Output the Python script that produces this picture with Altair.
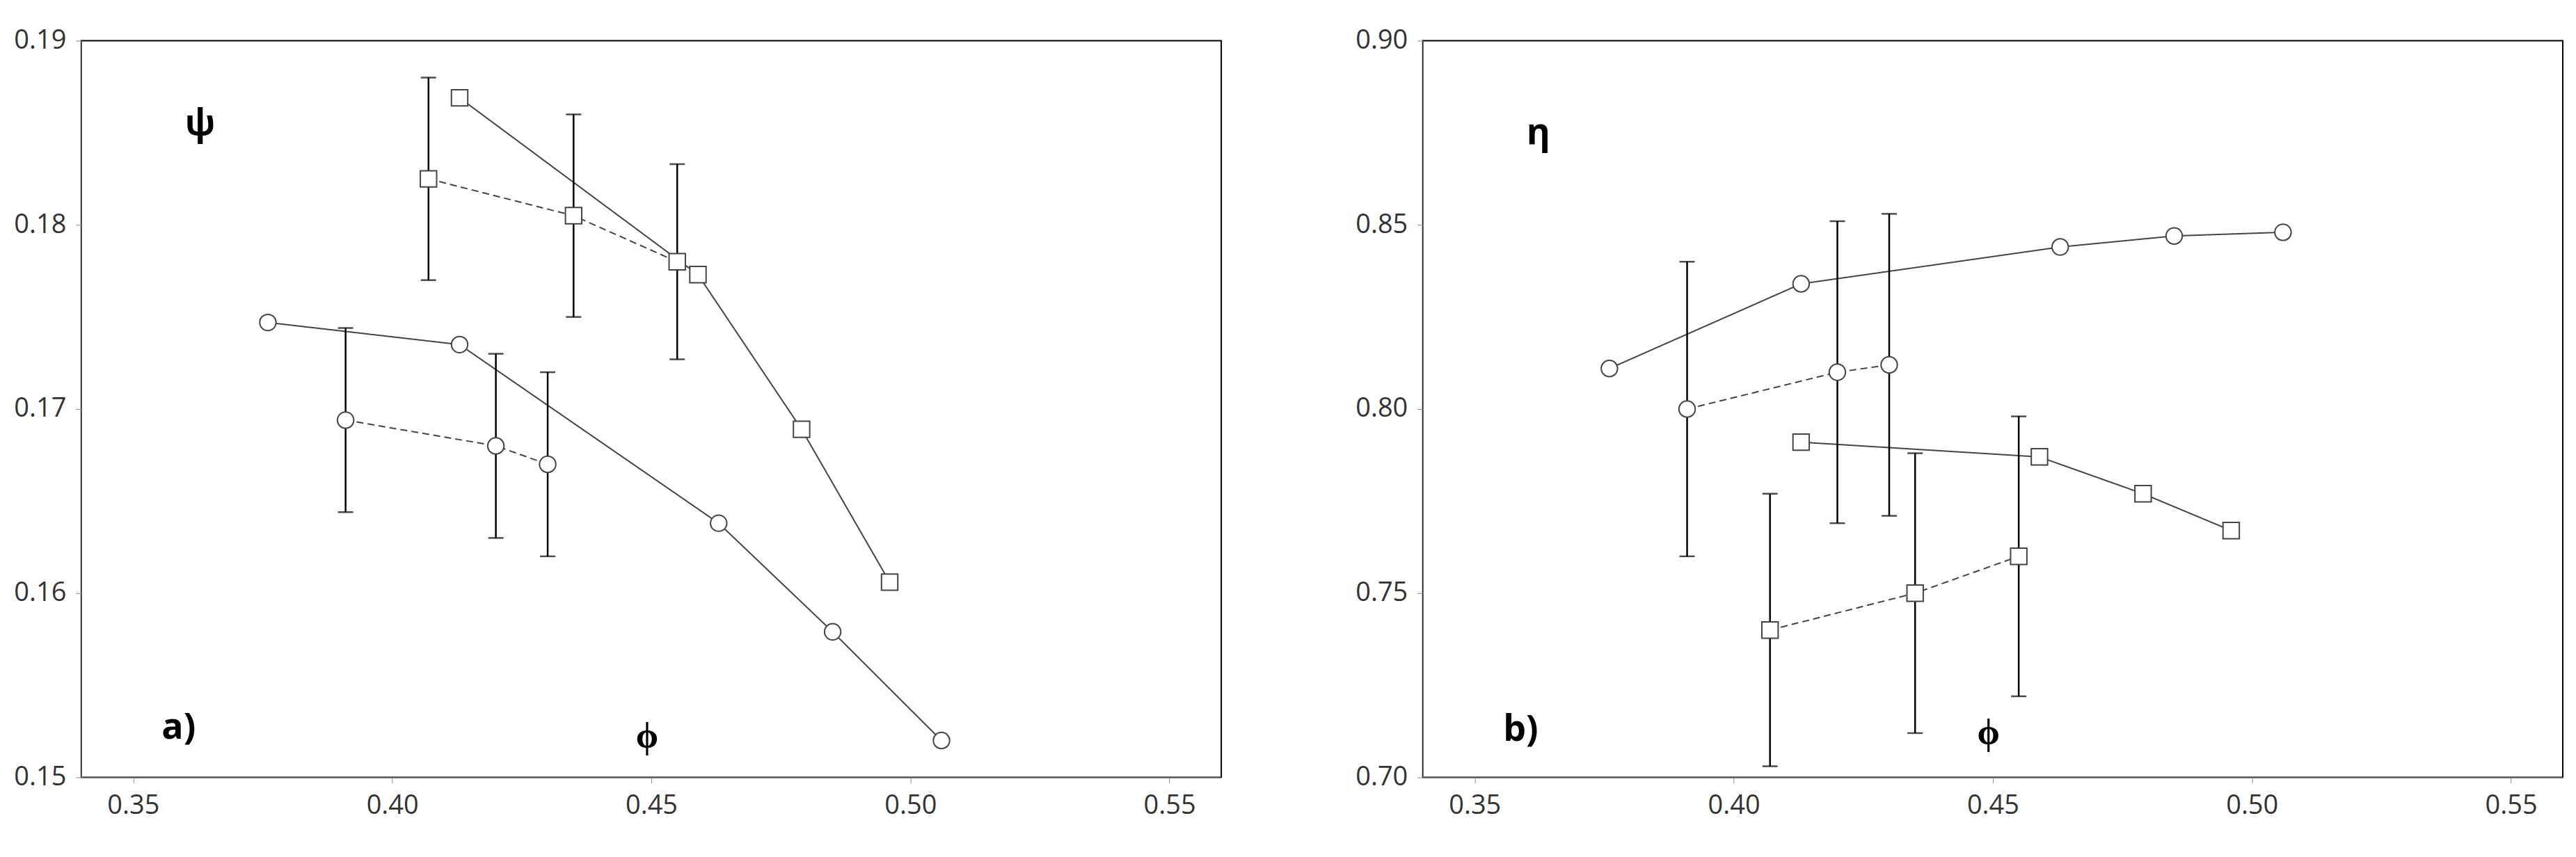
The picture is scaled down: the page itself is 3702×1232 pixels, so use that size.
import pandas as pd
import altair as alt

series = ["CFD - Non-Activated", "Exp. - Non-Activated", "CFD - Activated", "Exp. - Activated"]
shapes = ["circle", "circle", "square", "square"]
dashes = [[1, 0], [10, 6], [1, 0], [10, 6]]

# flow coefficient phi
phi_cfd_na = [0.376, 0.413, 0.463, 0.485, 0.506]
phi_exp_na = [0.391, 0.420, 0.430]
phi_cfd_a = [0.413, 0.459, 0.479, 0.496]
phi_exp_a = [0.407, 0.435, 0.455]

# head coefficient psi
psi_cfd_na = [0.1747, 0.1735, 0.1638, 0.1579, 0.1520]
psi_exp_na = [0.1694, 0.1680, 0.1670]
psi_err_na = [0.0050, 0.0050, 0.0050]
psi_cfd_a = [0.1869, 0.1773, 0.1689, 0.1606]
psi_exp_a = [0.1825, 0.1805, 0.1780]
psi_err_a = [0.0055, 0.0055, 0.0053]

# efficiency eta
eta_cfd_na = [0.811, 0.834, 0.844, 0.847, 0.848]
eta_exp_na = [0.800, 0.810, 0.812]
eta_err_na = [0.040, 0.041, 0.041]
eta_cfd_a = [0.791, 0.787, 0.777, 0.767]
eta_exp_a = [0.740, 0.750, 0.760]
eta_err_a = [0.037, 0.038, 0.038]

FONT = "Open Sans"


def make_df(cfd_na, exp_na, err_na, cfd_a, exp_a, err_a):
    rows = []
    for x, y in zip(phi_cfd_na, cfd_na):
        rows.append((series[0], x, y, None, None))
    for x, y, e in zip(phi_exp_na, exp_na, err_na):
        rows.append((series[1], x, y, y - e, y + e))
    for x, y in zip(phi_cfd_a, cfd_a):
        rows.append((series[2], x, y, None, None))
    for x, y, e in zip(phi_exp_a, exp_a, err_a):
        rows.append((series[3], x, y, y - e, y + e))
    return pd.DataFrame(rows, columns=["series", "phi", "val", "lo", "hi"])


def axis(vals):
    return alt.Axis(values=vals, format=".2f", title=None, grid=False, tickSize=8,
                    labelPadding=14, labelFontSize=38, labelFont=FONT, labelColor="#333",
                    domainColor="#888", tickColor="#888")


def panel(df, ydom, yvals, sym, sym_xy, tag_xy, phi_xy, lx, ly):
    xs = alt.X("phi:Q", scale=alt.Scale(domain=[0.35, 0.55]),
               axis=axis([0.35, 0.40, 0.45, 0.50, 0.55]))
    ys = alt.Y("val:Q", scale=alt.Scale(domain=ydom), axis=axis(yvals))
    sc_dash = alt.Scale(domain=series, range=dashes)
    sc_shape = alt.Scale(domain=series, range=shapes)
    leg = alt.Legend(title=None, orient="none", legendX=lx, legendY=ly, strokeColor="black",
                     padding=14, labelFontSize=34, labelFont=FONT, symbolSize=500,
                     symbolStrokeColor="#444", symbolFillColor="white", symbolStrokeWidth=2,
                     rowPadding=10, labelLimit=600)
    base = alt.Chart(df)
    lines = base.mark_line(color="#444", strokeWidth=2).encode(
        x=xs, y=ys, detail="series:N",
        strokeDash=alt.StrokeDash("series:N", scale=sc_dash, legend=None),
    )
    err = base.transform_filter("datum.lo != null").mark_errorbar(
        ticks=alt.TickConfig(size=22, color="black", thickness=2.5), color="black", thickness=2.5
    ).encode(x="phi:Q", y=alt.Y("lo:Q", title=None), y2="hi:Q")
    pts = base.mark_point(filled=True, fill="white", stroke="#444", strokeWidth=2, size=550, opacity=1).encode(
        x="phi:Q", y="val:Q",
        shape=alt.Shape("series:N", scale=sc_shape, legend=leg),
    )
    txt = pd.DataFrame({"t": [sym, tag_xy[2], "ϕ"],
                        "x": [sym_xy[0], tag_xy[0], phi_xy[0]],
                        "y": [sym_xy[1], tag_xy[1], phi_xy[1]]})
    labels = alt.Chart(txt).mark_text(fontSize=52, fontWeight="bold", font=FONT, align="left").encode(
        x="x:Q", y="y:Q", text="t:N")
    return alt.layer(lines, err, pts, labels).properties(width=1640, height=1060)


left = panel(make_df(psi_cfd_na, psi_exp_na, psi_err_na, psi_cfd_a, psi_exp_a, psi_err_a),
             [0.15, 0.19], [0.15, 0.16, 0.17, 0.18, 0.19], "ψ", (0.36, 0.1855),
             (0.3555, 0.1527, "a)"), (0.447, 0.1522), 1100, 95)
right = panel(make_df(eta_cfd_na, eta_exp_na, eta_err_na, eta_cfd_a, eta_exp_a, eta_err_a),
              [0.70, 0.90], [0.70, 0.75, 0.80, 0.85, 0.90], "η", (0.36, 0.875),
              (0.3555, 0.713, "b)"), (0.447, 0.712), 1150, 365)

chart = alt.hconcat(left, right, spacing=190).resolve_scale(
    strokeDash="independent", shape="independent").resolve_legend(
    strokeDash="independent", shape="independent").properties(
    padding={"left": 10, "top": 30, "right": 10, "bottom": 10}
).configure_view(stroke="black", strokeWidth=2)

chart.save("out.html", embed_options={"renderer": "svg", "actions": False})
